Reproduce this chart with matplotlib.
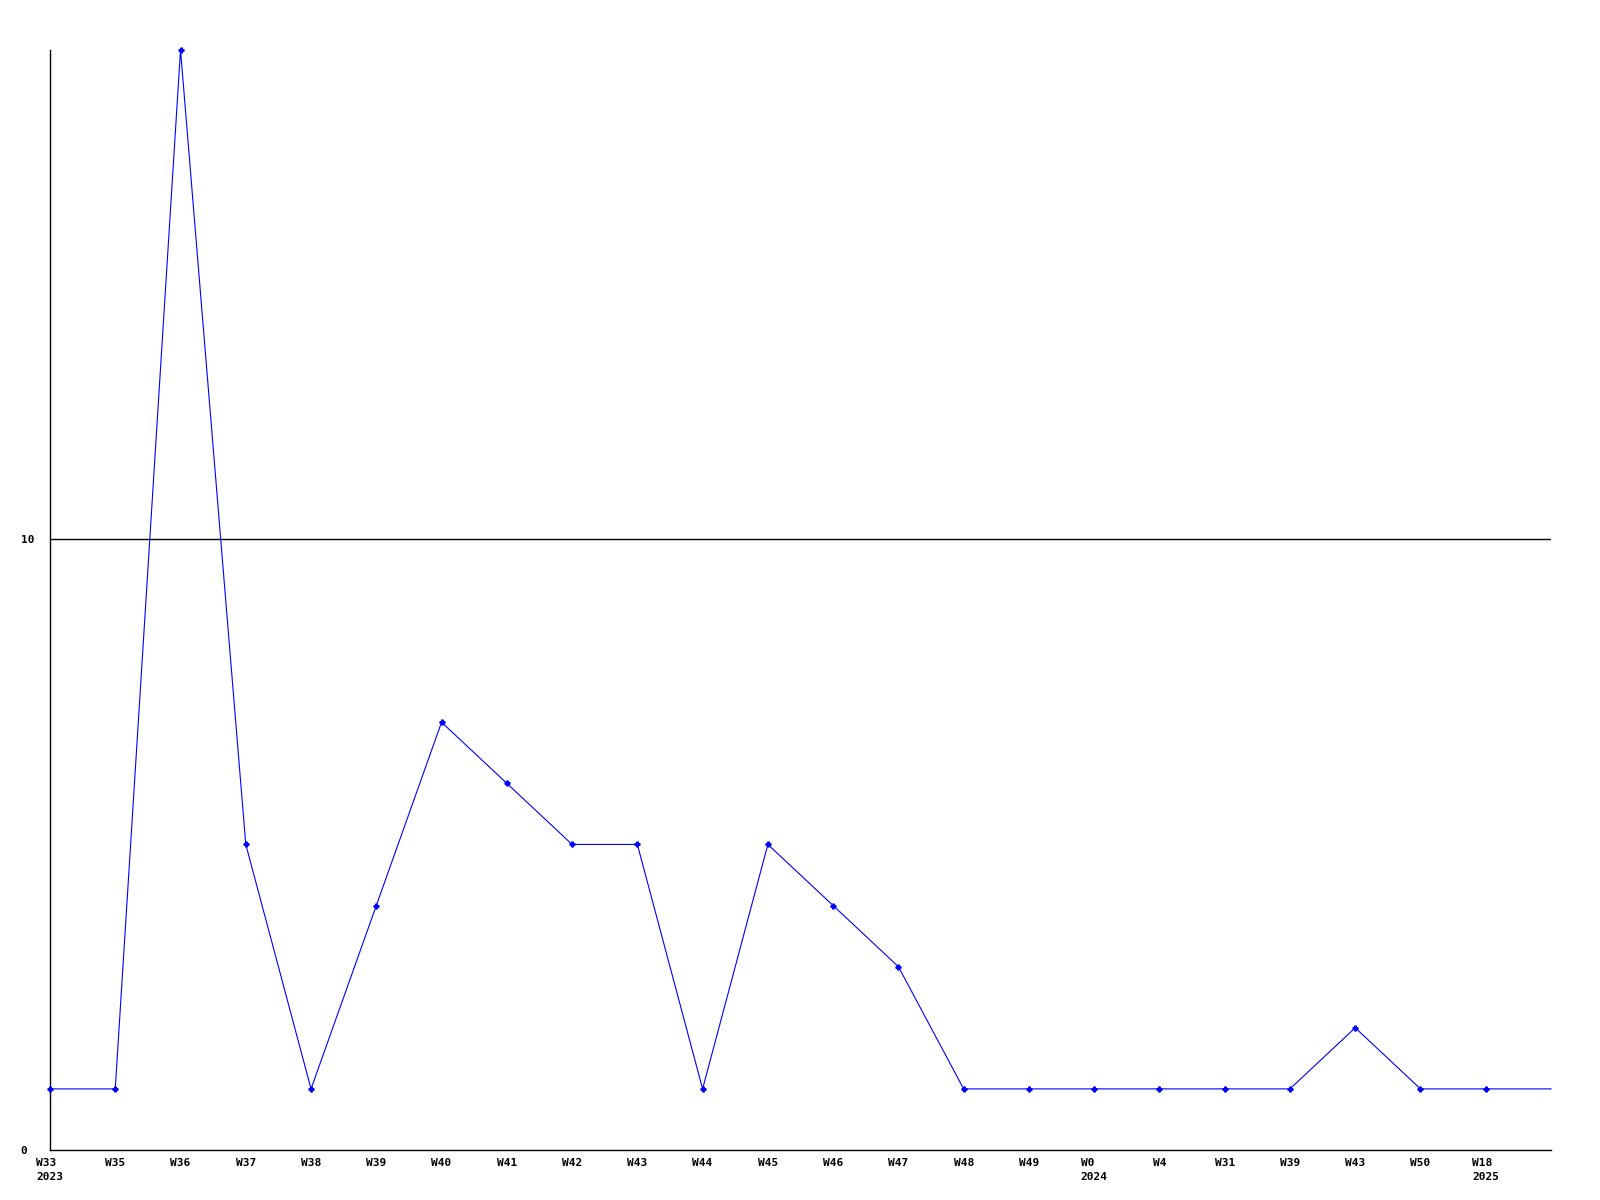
import matplotlib
matplotlib.use("Agg")
import matplotlib.pyplot as plt

# weekly counts, last point is the unlabeled edge of the plot
weeks = ["W33\n2023", "W35", "W36", "W37", "W38", "W39", "W40", "W41", "W42",
         "W43", "W44", "W45", "W46", "W47", "W48", "W49", "W0\n2024", "W4",
         "W31", "W39", "W43", "W50", "W18\n2025", ""]
counts = [1, 1, 18, 5, 1, 4, 7, 6, 5, 5, 1, 5, 4, 3, 1, 1, 1, 1, 1, 1, 2, 1, 1, 1]
y_ticks = [0, 10]

plt.rcParams["font.family"] = ["DejaVu Sans Mono"]

fig = plt.figure(figsize=(16, 12), dpi=100)
ax = fig.add_axes([50 / 1600, 50 / 1200, 1501 / 1600, 1100 / 1200])

x = list(range(len(counts)))
ax.plot(x, counts, color="#0000ff", linewidth=0.8, marker="P", markersize=3.5,
        markevery=list(range(len(counts) - 1)), clip_on=False, zorder=3)

ax.axhline(10, color="black", linewidth=1.0, zorder=1)

ax.set_xlim(0, len(counts) - 1)
ax.set_ylim(0, 18)
ax.set_xticks(x)
ax.set_xticklabels(weeks, fontsize=8, fontweight="bold", multialignment="left",
                   linespacing=1.5)
ax.set_yticks(y_ticks)
ax.set_yticklabels([str(v) for v in y_ticks], fontsize=8, fontweight="bold",
                   ha="left")
ax.tick_params(axis="both", length=0)
ax.tick_params(axis="x", pad=6)
ax.tick_params(axis="y", pad=21)

for side in ("top", "right"):
    ax.spines[side].set_visible(False)
for side in ("left", "bottom"):
    ax.spines[side].set_color("black")
    ax.spines[side].set_linewidth(1.0)

fig.savefig("out.png", dpi=100)
